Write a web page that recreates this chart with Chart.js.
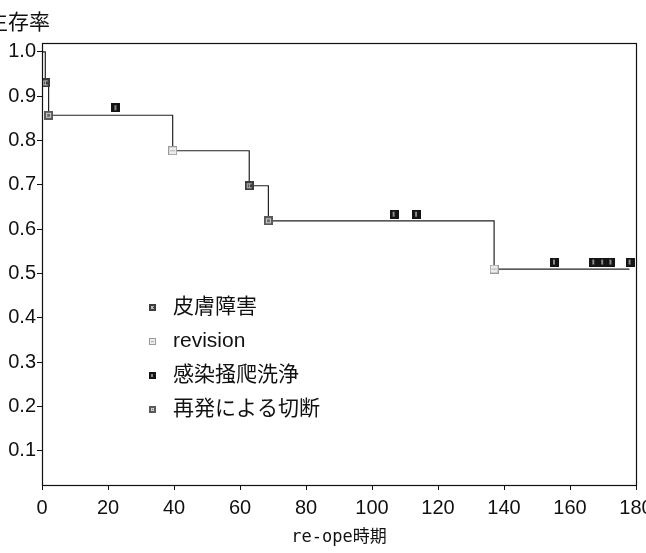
<!DOCTYPE html>
<html><head><meta charset="utf-8">
<script src="https://cdn.jsdelivr.net/npm/chart.js@4.4.1/dist/chart.umd.min.js"></script>
<style>
html,body{margin:0;padding:0;background:#fff;}
#wrap{position:relative;width:646px;height:553px;overflow:hidden;background:#fff;}
#title{position:absolute;left:-13px;top:10px;font-family:'Noto Sans CJK JP',sans-serif;font-size:21px;line-height:21px;color:#111;white-space:nowrap;}
canvas{position:absolute;left:0;top:0;}
</style></head><body>
<div id="wrap"><canvas id="c" width="646" height="553"></canvas><div id="title">生存率</div></div>
<script>
// Kaplan-Meier step curve
const survivalTimes  = [0, 1, 2, 39.6, 62.8, 68.6, 137, 178];
const survivalValues = [1.0, 0.93, 0.857, 0.777, 0.698, 0.619, 0.51, 0.51];

// legend categories
const categories = ['皮膚障害', 'revision', '感染掻爬洗浄', '再発による切断'];

// markers per category
const skinX = [1, 62.8];
const skinY = [0.93, 0.698];
const revisionX = [39.6, 137];
const revisionY = [0.777, 0.51];
const infectionX = [22.4, 106.7, 113.5, 155.3, 167.2, 169.9, 172.4, 178.2];
const infectionY = [0.874, 0.634, 0.634, 0.526, 0.526, 0.526, 0.526, 0.526];
const recurrenceX = [2, 68.6];
const recurrenceY = [0.857, 0.619];

// tick labels
const xTicks = [0, 20, 40, 60, 80, 100, 120, 140, 160, 180];
const yTicks = [0.1, 0.2, 0.3, 0.4, 0.5, 0.6, 0.7, 0.8, 0.9, 1.0];

function makeMarker(size, kind) {
  const c = document.createElement('canvas');
  c.width = size; c.height = size;
  const g = c.getContext('2d');
  const s = size;
  if (kind === 0) {        // 皮膚障害: dark hatched
    g.fillStyle = '#3c3c3c'; g.fillRect(0, 0, s, s);
    g.fillStyle = '#bdbdbd';
    g.fillRect(2, 2, s - 4, 1); g.fillRect(2, s - 3, s - 4, 1);
    g.fillRect(2, 2, 1, s - 4); g.fillRect(Math.floor(s / 2), 2, 1, s - 4);
  } else if (kind === 1) { // revision: light
    g.fillStyle = '#9a9a9a'; g.fillRect(0, 0, s, s);
    g.fillStyle = '#ececec'; g.fillRect(1, 1, s - 2, s - 2);
    g.fillStyle = '#b0b0b0'; g.fillRect(2, Math.floor(s / 2), s - 4, 1);
  } else if (kind === 2) { // 感染掻爬洗浄: near black
    g.fillStyle = '#141414'; g.fillRect(0, 0, s, s);
    g.fillStyle = '#8a8a8a'; g.fillRect(Math.floor(s / 2) - 1, 2, 2, s - 4);
  } else {                 // 再発による切断: mid grey
    g.fillStyle = '#5a5a5a'; g.fillRect(0, 0, s, s);
    g.fillStyle = '#d0d0d0'; g.fillRect(2, 2, s - 4, s - 4);
    g.fillStyle = '#6a6a6a'; g.fillRect(3, 3, s - 6, s - 6);
  }
  return c;
}
const plotMarkers = [0, 1, 2, 3].map(k => makeMarker(9, k));
const legendMarkers = [0, 1, 2, 3].map(k => makeMarker(7, k));

function pts(xs, ys) { return xs.map((x, i) => ({ x: x, y: ys[i] })); }

const frame = {
  id: 'frame',
  afterDatasetsDraw(chart) {
    const a = chart.chartArea, ctx = chart.ctx;
    ctx.save();
    ctx.strokeStyle = '#111'; ctx.lineWidth = 1.2;
    ctx.strokeRect(a.left + 0.5, a.top + 0.5, a.right - a.left, a.bottom - a.top);
    ctx.restore();
  }
};

const innerLegend = {
  id: 'innerLegend',
  afterDraw(chart) {
    const ctx = chart.ctx, a = chart.chartArea;
    const mx = a.left + 110, tx = a.left + 131;
    const rows = [307, 341, 375, 409];
    ctx.save();
    ctx.font = "21px 'Liberation Sans', 'Noto Sans CJK JP', sans-serif";
    ctx.fillStyle = '#111';
    ctx.textBaseline = 'middle';
    ctx.textAlign = 'left';
    categories.forEach((name, i) => {
      const m = legendMarkers[i];
      ctx.drawImage(m, Math.round(mx - m.width / 2), Math.round(rows[i] - m.height / 2));
      ctx.fillText(name, tx, rows[i]);
    });
    ctx.restore();
  }
};

const tickFontY = { family: "'Liberation Sans Narrow', 'Liberation Sans', sans-serif", size: 20 };
const tickFontX = { family: "'Liberation Sans Narrow', 'Liberation Sans', sans-serif", size: 20 };

new Chart(document.getElementById('c'), {
  type: 'scatter',
  data: {
    datasets: [
      { label: 'survival', data: pts(survivalTimes, survivalValues), showLine: true, stepped: true,
        borderColor: '#222', borderWidth: 1.2, pointRadius: 0, fill: false, order: 5 },
      { label: categories[0], data: pts(skinX, skinY), pointStyle: plotMarkers[0], order: 1 },
      { label: categories[1], data: pts(revisionX, revisionY), pointStyle: plotMarkers[1], order: 1 },
      { label: categories[2], data: pts(infectionX, infectionY), pointStyle: plotMarkers[2], order: 1 },
      { label: categories[3], data: pts(recurrenceX, recurrenceY), pointStyle: plotMarkers[3], order: 1 }
    ]
  },
  options: {
    responsive: false,
    animation: false,
    devicePixelRatio: 1,
    layout: { padding: { top: 43, right: 10, left: 0, bottom: 0 } },
    plugins: { legend: { display: false }, tooltip: { enabled: false }, title: { display: false } },
    scales: {
      x: {
        type: 'linear', min: 0, max: 180,
        afterBuildTicks(s) { s.ticks = xTicks.map(v => ({ value: v })); },
        afterFit(s) { s.height = 68; s.paddingLeft = 0; s.paddingRight = 0; },
        ticks: { color: '#111', font: tickFontX, padding: 6, maxRotation: 0, autoSkip: false,
                 callback: v => String(v) },
        grid: { drawOnChartArea: false, drawTicks: true, tickLength: 5, color: '#111', lineWidth: 1 },
        border: { display: false },
        title: { display: true, text: 're-ope時期', color: '#111', padding: { top: 0, bottom: 5 },
                 font: { family: "'DejaVu Sans Mono', 'Noto Sans CJK JP', monospace", size: 17 } }
      },
      y: {
        type: 'linear', min: 0.023, max: 1.02,
        afterBuildTicks(s) { s.ticks = yTicks.map(v => ({ value: v })); },
        afterFit(s) { s.width = 42; s.paddingTop = 0; s.paddingBottom = 0; },
        ticks: { color: '#111', font: tickFontY, padding: 1, autoSkip: false,
                 callback: v => Number(v).toFixed(1) },
        grid: { drawOnChartArea: false, drawTicks: true, tickLength: 5, color: '#111', lineWidth: 1 },
        border: { display: false }
      }
    }
  },
  plugins: [frame, innerLegend]
});
</script>
</body></html>
